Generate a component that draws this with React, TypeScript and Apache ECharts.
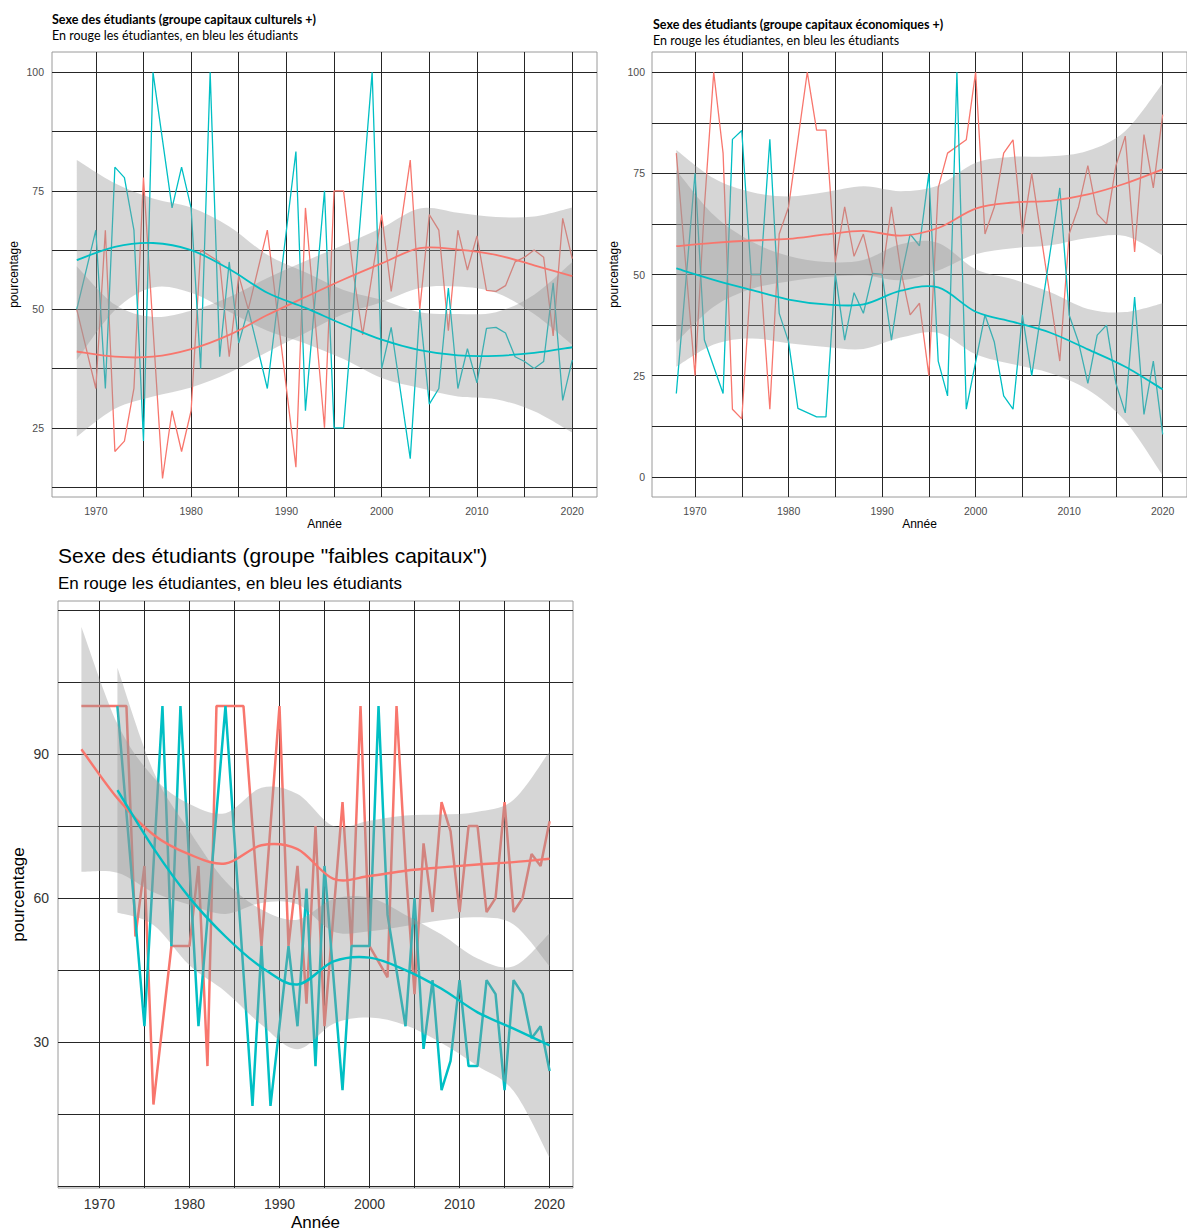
import React, { useEffect, useRef } from "react";
import * as echarts from "echarts";

// ---------- DATA ----------
const YEARS = [1968,1969,1970,1971,1972,1973,1974,1975,1976,1977,1978,1979,1980,1981,1982,1983,1984,1985,1986,1987,1988,1989,1990,1991,1992,1993,1994,1995,1996,1997,1998,1999,2000,2001,2002,2003,2004,2005,2006,2007,2008,2009,2010,2011,2012,2013,2014,2015,2016,2017,2018,2019,2020];
const SMOOTH_YEARS = [1968,1972,1976,1980,1984,1988,1992,1996,2000,2004,2008,2012,2016,2020];
const SMOOTH_YEARS_P3_MEN = [1972,1976,1980,1984,1988,1992,1996,2000,2004,2008,2012,2016,2020];

const X_TICKS = [1970,1975,1980,1985,1990,1995,2000,2005,2010,2015,2020];
const X_LABELS = [1970,1980,1990,2000,2010,2020];
const P1_Y_TICKS = [12.5,25,37.5,50,62.5,75,87.5,100];
const P1_Y_LABELS = [25,50,75,100];
const P2_Y_TICKS = [0,12.5,25,37.5,50,62.5,75,87.5,100];
const P2_Y_LABELS = [0,25,50,75,100];
const P3_Y_TICKS = [0,15,30,45,60,75,90,105,120];
const P3_Y_LABELS = [30,60,90];

// Panel 1 : capitaux culturels +
const P1_WOMEN = [50,null,33.3,66.7,20,22.2,33.3,77.8,null,14.3,28.6,20,28.6,62.5,null,60,40,57.1,50,58.3,66.7,null,null,16.7,71.4,48,25,75,75,58,44.6,null,70,53.8,67.6,81.5,50,70,66.7,45.5,66.7,58.3,65.5,54,53.8,55,60,61,62.5,61,44.4,69.2,60.7];
const P1_MEN = [50,null,66.7,33.3,80,77.8,66.7,22.2,100,85.7,71.4,80,71.4,37.5,100,40,60,42.9,50,41.7,33.3,null,null,83.3,28.6,52,75,25,25,null,null,100,37.5,46.2,32.4,18.5,50,30,33.3,54.5,33.3,41.7,34.5,46,46.2,45,40,39,37.5,39,55.6,30.8,39.3];
const P1_WOMEN_SMOOTH = [41.1,40.0,40.0,41.6,44.6,48.8,52.6,56.3,59.7,62.9,62.6,61.5,59.3,57.0];
const P1_WOMEN_LO = [23.1,29.0,31.6,33.5,36.6,41.0,45.0,49.0,51.5,54.5,54.8,53.5,49.0,42.5];
const P1_WOMEN_HI = [59.1,51.0,48.4,49.7,52.6,56.6,60.2,63.6,67.2,71.3,70.4,69.5,69.6,71.5];
const P1_MEN_SMOOTH = [60.4,63.2,64.0,62.5,58.5,53.5,50.3,46.8,43.6,41.4,40.3,40.2,40.8,42.0];
const P1_MEN_LO = [39.3,49.8,54.6,53.5,49.5,45.5,42.8,39.5,35.5,33.4,31.6,31.0,28.5,24.0];
const P1_MEN_HI = [81.5,76.6,73.4,71.5,67.5,61.5,57.8,54.1,52.0,49.4,49.0,49.4,53.1,60.0];

// Panel 2 : capitaux économiques +
const P2_WOMEN = [80,null,25,66.7,100,80,16.7,14.3,50,50,16.7,60,66.7,83.3,100,85.7,85.7,53,66.7,54.5,60,50,50,66.7,51,40,42.9,25,71.4,80,null,83.3,100,60,66.7,80,83.3,60,75,59.5,44,28.6,60,66.7,76.9,65,62.5,76.9,84.2,55.6,84.6,71.4,89.5];
const P2_MEN = [20.6,null,75,33.8,null,20.6,83.4,85.6,50,50,83.4,40.4,33.4,16.9,null,14.8,14.8,50.3,33.8,45.5,40.4,50.3,50,33.8,49,60,57.1,75,28.6,20,100,16.7,null,40,33.3,20,16.7,40,25,40.5,56,71.4,40,33.3,23.1,35,37.5,23.1,15.8,44.4,15.4,28.6,10.5];
const P2_WOMEN_SMOOTH = [57.0,57.8,58.4,58.8,59.9,60.8,59.6,61.5,66.3,67.8,68.2,69.8,72.5,76.0];
const P2_WOMEN_LO = [33.2,42.0,46.4,48.3,49.4,49.8,48.6,51.0,55.0,56.5,57.2,59.0,59.5,54.7];
const P2_WOMEN_HI = [80.8,73.8,70.4,69.3,70.4,71.8,70.6,72.0,77.6,79.1,79.2,80.6,85.5,97.3];
const P2_MEN_SMOOTH = [51.5,48.7,46.2,43.8,42.6,42.6,46.0,46.8,40.8,38.3,35.6,31.5,27.2,21.6];
const P2_MEN_LO = [27.2,32.7,34.2,33.0,32.1,31.6,34.4,35.6,30.3,27.8,25.6,21.5,13.7,0.3];
const P2_MEN_HI = [75.8,64.7,58.2,54.6,53.1,53.6,57.5,57.8,51.3,48.8,45.6,41.5,40.7,42.9];

// Panel 3 : faibles capitaux
const P3_WOMEN = [100,100,100,100,100,100,52,66.7,17,null,50,null,50,66.7,25,100,null,100,100,75,50,75,100,50,66.7,38,75,33.3,56.7,80,50,100,50,null,43.5,100,66.7,40,71.4,57.1,80,73.9,57.1,75,75,57.1,60,80,57.1,60,69.2,66.7,76];
const P3_MEN = [null,null,null,null,100,null,null,33.3,null,100,50,100,null,33.3,null,null,100,null,null,16.7,50,16.7,null,50,33.3,62,25,66.7,null,20,50,null,50,100,56.5,null,33.3,60,28.6,42.9,20,26.1,42.9,25,25,42.9,40,20,42.9,40,30.8,33.3,24];
const P3_WOMEN_SMOOTH = [91.0,80.8,73.2,69.1,67.2,71.0,70.2,64.0,64.6,65.7,66.4,67.0,67.5,68.2];
const P3_WOMEN_LO = [65.5,65.3,61.2,58.6,56.7,59.0,58.7,53.0,53.1,54.2,55.4,56.0,54.5,45.8];
const P3_WOMEN_HI = [116.5,96.3,85.2,79.6,77.7,83.0,81.7,75.0,76.1,77.2,77.4,78.0,80.5,90.6];
const P3_MEN_SMOOTH = [82.5,70.4,60.1,52.0,45.6,42.0,46.8,47.6,45.0,41.1,36.2,32.8,29.3];
const P3_MEN_LO = [57.0,54.4,46.0,40.5,33.6,28.5,33.8,35.1,33.5,29.8,25.0,19.8,5.9];
const P3_MEN_HI = [108.0,86.4,74.0,63.5,57.6,55.5,59.8,60.1,56.5,52.4,47.4,45.8,52.7];

// ---------- STYLE ----------
const RED = "#F8766D";
const CYAN = "#00BFC4";
const GRID_LINE = "#262626";
const SANS = "'Liberation Sans', Arial, sans-serif";
const CAL = "Lato, 'Open Sans', sans-serif";

function pairs(xs: number[], ys: (number | null)[]) {
  const out: number[][] = [];
  xs.forEach((x, i) => {
    const v = ys[i];
    if (v !== null && v !== undefined) out.push([x, v]);
  });
  return out;
}

function rawLine(g: number, ys: (number | null)[], color: string, width: number) {
  return {
    type: "line", xAxisIndex: g, yAxisIndex: g, data: pairs(YEARS, ys),
    symbol: "none", connectNulls: true, z: 2, silent: true,
    lineStyle: { color, width }, emphasis: { disabled: true },
  };
}

// Catmull-Rom spline through pixel points, as cubic Bezier segments
function splineSegments(pts: number[][]) {
  let d = "";
  for (let i = 0; i < pts.length - 1; i++) {
    const p0 = pts[i - 1] || pts[i];
    const p1 = pts[i];
    const p2 = pts[i + 1];
    const p3 = pts[i + 2] || pts[i + 1];
    const c1x = p1[0] + (p2[0] - p0[0]) / 6;
    const c1y = p1[1] + (p2[1] - p0[1]) / 6;
    const c2x = p2[0] - (p3[0] - p1[0]) / 6;
    const c2y = p2[1] - (p3[1] - p1[1]) / 6;
    d += ` C${c1x.toFixed(2)},${c1y.toFixed(2)} ${c2x.toFixed(2)},${c2y.toFixed(2)} ${p2[0].toFixed(2)},${p2[1].toFixed(2)}`;
  }
  return d;
}

function band(g: number, xs: number[], lo: number[], hi: number[]) {
  return {
    type: "custom", xAxisIndex: g, yAxisIndex: g, z: 3, silent: true, clip: true,
    data: xs.map((x, i) => [x, lo[i], hi[i]]),
    encode: { x: 0, y: [1, 2] },
    renderItem: (params: any, api: any) => {
      if (params.dataIndex !== 0) return null;
      const up = xs.map((x, i) => api.coord([x, hi[i]]));
      const dn = xs.map((x, i) => api.coord([x, lo[i]])).reverse();
      const d =
        `M${up[0][0].toFixed(2)},${up[0][1].toFixed(2)}` +
        splineSegments(up) +
        ` L${dn[0][0].toFixed(2)},${dn[0][1].toFixed(2)}` +
        splineSegments(dn) +
        " Z";
      return {
        type: "path",
        shape: { pathData: d },
        style: { fill: "#999999", opacity: 0.4, stroke: null },
      };
    },
  };
}

function smoothLine(g: number, xs: number[], ys: number[], color: string, width: number) {
  return {
    type: "custom", xAxisIndex: g, yAxisIndex: g, z: 4, silent: true, clip: true,
    data: xs.map((x, i) => [x, ys[i]]),
    encode: { x: 0, y: 1 },
    renderItem: (params: any, api: any) => {
      if (params.dataIndex !== 0) return null;
      const pts = xs.map((x, i) => api.coord([x, ys[i]]));
      const d = `M${pts[0][0].toFixed(2)},${pts[0][1].toFixed(2)}` + splineSegments(pts);
      return {
        type: "path",
        shape: { pathData: d },
        style: { fill: "none", stroke: color, lineWidth: width, lineJoin: "round", lineCap: "butt" },
      };
    },
  };
}

function xAxis(g: number, fs: number, color: string, margin: number, nameFs: number, nameGap: number) {
  return {
    gridIndex: g, type: "value", min: 1965.4, max: 2022.6,
    axisLine: { show: false },
    axisTick: { show: false, customValues: X_TICKS },
    axisLabel: { customValues: X_LABELS, fontSize: fs, color, margin, fontFamily: SANS, formatter: (v: number) => String(v) },
    splitLine: { show: true, lineStyle: { color: GRID_LINE, width: 1 } },
    name: "Année", nameLocation: "middle", nameGap,
    nameTextStyle: { fontSize: nameFs, color: "#000", fontFamily: SANS },
  };
}

function yAxis(g: number, min: number, max: number, ticks: number[], labels: number[], fs: number, color: string, margin: number, nameFs: number, nameGap: number) {
  return {
    gridIndex: g, type: "value", min, max,
    axisLine: { show: false },
    axisTick: { show: false, customValues: ticks },
    axisLabel: { customValues: labels, fontSize: fs, color, margin, fontFamily: SANS, formatter: (v: number) => String(v) },
    splitLine: { show: true, lineStyle: { color: GRID_LINE, width: 1 } },
    name: "pourcentage", nameLocation: "middle", nameGap,
    nameTextStyle: { fontSize: nameFs, color: "#000", fontFamily: SANS },
  };
}

function title(x: number, y: number, text: string, fs: number, family: string, weight: string) {
  return {
    type: "text", x, y, silent: true,
    style: { text, fontSize: fs, fontFamily: family, fontWeight: weight, fill: "#000", verticalAlign: "middle", align: "left" },
  };
}

export default function App() {
  const ref = useRef<HTMLDivElement>(null);
  useEffect(() => {
    if (!ref.current) return;
    const chart = echarts.init(ref.current, null, { renderer: "svg" });
    const gridBase = { show: true, borderColor: "#9a9a9a", borderWidth: 1, backgroundColor: "transparent", containLabel: false };
    const option = {
      animation: false,
      backgroundColor: "#ffffff",
      grid: [
        { ...gridBase, left: 52, top: 52, width: 545, height: 445 },
        { ...gridBase, left: 652, top: 52, width: 546, height: 445 },
        { ...gridBase, left: 58, top: 601, width: 515, height: 590 },
      ],
      xAxis: [
        xAxis(0, 10.5, "#4d4d4d", 8, 12, 21),
        xAxis(1, 10.5, "#4d4d4d", 8, 12, 21),
        xAxis(2, 14, "#333333", 9, 17, 26),
      ],
      yAxis: [
        yAxis(0, 10.4, 104.3, P1_Y_TICKS, P1_Y_LABELS, 10.5, "#4d4d4d", 8, 12, 32),
        yAxis(1, -5, 105, P2_Y_TICKS, P2_Y_LABELS, 10.5, "#4d4d4d", 7, 12, 32),
        yAxis(2, -0.4, 121.9, P3_Y_TICKS, P3_Y_LABELS, 14, "#333333", 9, 17, 31),
      ],
      graphic: [
        title(52, 19, "Sexe des étudiants (groupe capitaux culturels +)", 12.5, CAL, "bold"),
        title(52, 35, "En rouge les étudiantes, en bleu les étudiants", 12.5, CAL, "normal"),
        title(653, 24, "Sexe des étudiants (groupe capitaux économiques +)", 12.5, CAL, "bold"),
        title(653, 40, "En rouge les étudiantes, en bleu les étudiants", 12.5, CAL, "normal"),
        title(58, 555, "Sexe des étudiants (groupe \"faibles capitaux\")", 21, SANS, "normal"),
        title(58, 583, "En rouge les étudiantes, en bleu les étudiants", 17, SANS, "normal"),
      ],
      series: [
        // panel 1
        rawLine(0, P1_WOMEN, RED, 1.3),
        rawLine(0, P1_MEN, CYAN, 1.3),
        band(0, SMOOTH_YEARS, P1_WOMEN_LO, P1_WOMEN_HI),
        band(0, SMOOTH_YEARS, P1_MEN_LO, P1_MEN_HI),
        smoothLine(0, SMOOTH_YEARS, P1_WOMEN_SMOOTH, RED, 1.8),
        smoothLine(0, SMOOTH_YEARS, P1_MEN_SMOOTH, CYAN, 1.8),
        // panel 2
        rawLine(1, P2_WOMEN, RED, 1.3),
        rawLine(1, P2_MEN, CYAN, 1.3),
        band(1, SMOOTH_YEARS, P2_WOMEN_LO, P2_WOMEN_HI),
        band(1, SMOOTH_YEARS, P2_MEN_LO, P2_MEN_HI),
        smoothLine(1, SMOOTH_YEARS, P2_WOMEN_SMOOTH, RED, 1.8),
        smoothLine(1, SMOOTH_YEARS, P2_MEN_SMOOTH, CYAN, 1.8),
        // panel 3
        rawLine(2, P3_WOMEN, RED, 2.5),
        rawLine(2, P3_MEN, CYAN, 2.5),
        band(2, SMOOTH_YEARS, P3_WOMEN_LO, P3_WOMEN_HI),
        band(2, SMOOTH_YEARS_P3_MEN, P3_MEN_LO, P3_MEN_HI),
        smoothLine(2, SMOOTH_YEARS, P3_WOMEN_SMOOTH, RED, 2.4),
        smoothLine(2, SMOOTH_YEARS_P3_MEN, P3_MEN_SMOOTH, CYAN, 2.4),
      ],
    };
    chart.setOption(option as any);
    return () => chart.dispose();
  }, []);
  return (
    <div
      ref={ref}
      style={{ position: "absolute", left: 0, top: 0, width: 1187, height: 1232 }}
    />
  );
}
